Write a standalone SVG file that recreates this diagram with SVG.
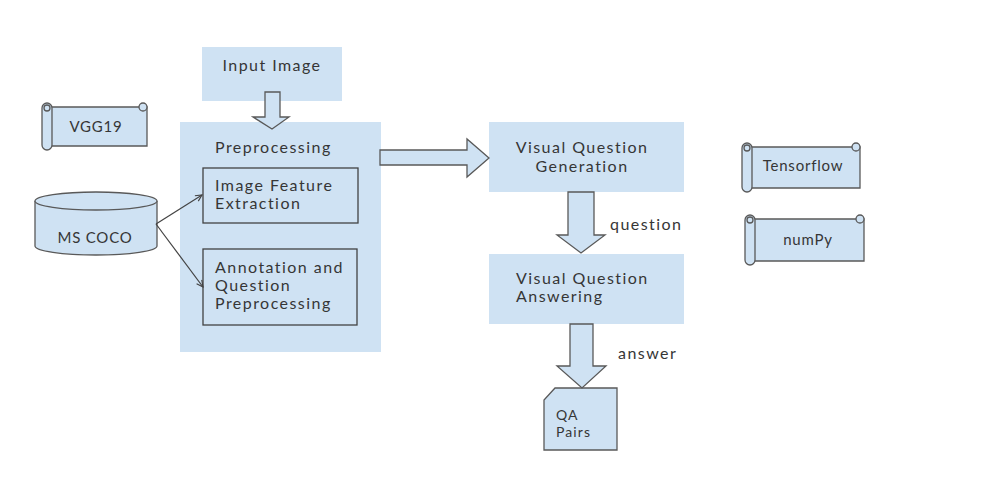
<svg xmlns="http://www.w3.org/2000/svg" width="984" height="484" viewBox="0 0 984 484">
<style>
.box{fill:#cfe2f3;stroke:none}
.sh{fill:#cfe2f3;stroke:#595959;stroke-width:1.3}
.inner{fill:#cfe2f3;stroke:#434343;stroke-width:1.3}
.t{font-family:Lato,"Open Sans",sans-serif;font-size:16px;letter-spacing:1.45px;fill:#363636}
.s{font-family:Lato,"Open Sans",sans-serif;font-size:15px;letter-spacing:0.8px;fill:#363636}
.q{font-family:Lato,"Open Sans",sans-serif;font-size:14px;letter-spacing:1.1px;fill:#363636}
.ln{fill:none;stroke:#434343;stroke-width:1.2}
</style>
<defs>
<marker id="ah" viewBox="0 0 10 10" refX="9" refY="5" markerWidth="8" markerHeight="8" orient="auto" markerUnits="userSpaceOnUse">
<path d="M1,1 L9,5 L1,9" fill="none" stroke="#434343" stroke-width="1.4"/>
</marker>
</defs>
<rect width="984" height="484" fill="#ffffff"/>

<g id="input-image">
<rect class="box" x="202" y="47" width="140" height="54"/>
<text class="t" x="272" y="71" text-anchor="middle">Input Image</text>
</g>

<g id="preprocessing">
<rect class="box" x="180" y="122" width="201" height="230"/>
<text class="t" x="215" y="153">Preprocessing</text>
</g>

<g id="image-feature-extraction">
<rect class="inner" x="203" y="168" width="155" height="55"/>
<text class="t" x="215" y="191">Image Feature</text>
<text class="t" x="215" y="209">Extraction</text>
</g>

<g id="annotation">
<rect class="inner" x="203" y="249" width="154" height="76"/>
<text class="t" x="215" y="273">Annotation and</text>
<text class="t" x="215" y="291">Question</text>
<text class="t" x="215" y="309">Preprocessing</text>
</g>

<g id="ms-coco">
<path class="sh" d="M35,201 A61,9 0 0 1 157,201 V246 A61,9 0 0 1 35,246 Z"/>
<path class="sh" d="M35,201 A61,9 0 0 0 157,201" fill="none"/>
<text class="s" x="95" y="243" text-anchor="middle">MS COCO</text>
</g>

<g id="vgg19">
<path class="sh" d="M47,107 H147 V146 H47 Z"/>
<circle class="sh" cx="143" cy="107" r="4"/>
<rect class="sh" x="42" y="103" width="10" height="47" rx="5"/>
<circle class="sh" cx="47" cy="108" r="3"/>
<text class="s" x="96" y="132" text-anchor="middle">VGG19</text>
</g>

<g id="tensorflow">
<path class="sh" d="M747,147 H860 V188 H747 Z"/>
<circle class="sh" cx="856" cy="147" r="4"/>
<rect class="sh" x="742" y="143" width="10" height="49" rx="5"/>
<circle class="sh" cx="747" cy="148" r="3"/>
<text class="s" x="803" y="171" text-anchor="middle">Tensorflow</text>
</g>

<g id="numpy">
<path class="sh" d="M750,219 H864 V261 H750 Z"/>
<circle class="sh" cx="860" cy="219" r="4"/>
<rect class="sh" x="745" y="215" width="10" height="50" rx="5"/>
<circle class="sh" cx="750" cy="220" r="3"/>
<text class="s" x="808" y="245" text-anchor="middle">numPy</text>
</g>

<g id="vqg">
<rect class="box" x="489" y="122" width="195" height="70"/>
<text class="t" x="582" y="153" text-anchor="middle">Visual Question</text>
<text class="t" x="582" y="172" text-anchor="middle">Generation</text>
</g>

<g id="vqa">
<rect class="box" x="489" y="254" width="195" height="70"/>
<text class="t" x="516" y="284">Visual Question</text>
<text class="t" x="516" y="302">Answering</text>
</g>

<g id="qa-pairs">
<path class="sh" d="M555,388 H617 V450 H544 V400 Z"/>
<text class="q" x="556" y="420">QA</text>
<text class="q" x="556" y="437">Pairs</text>
</g>

<g id="connectors">
<path class="sh" d="M265,92 H280 V117 H289 L272,129 L253,117 H265 Z"/>
<path class="sh" d="M380,150 H467 V139 L489,158 L467,177 V165 H380 Z"/>
<path class="sh" d="M568,192 H594 V235 H605 L581,253 L557,235 H568 Z"/>
<path class="sh" d="M570,324 H593 V366 H606 L582,388 L557,366 H570 Z"/>
<line class="ln" x1="156" y1="224" x2="202" y2="195" marker-end="url(#ah)"/>
<line class="ln" x1="156" y1="224" x2="203" y2="287" marker-end="url(#ah)"/>
<text class="t" x="610" y="230">question</text>
<text class="t" x="618" y="359">answer</text>
</g>
</svg>
